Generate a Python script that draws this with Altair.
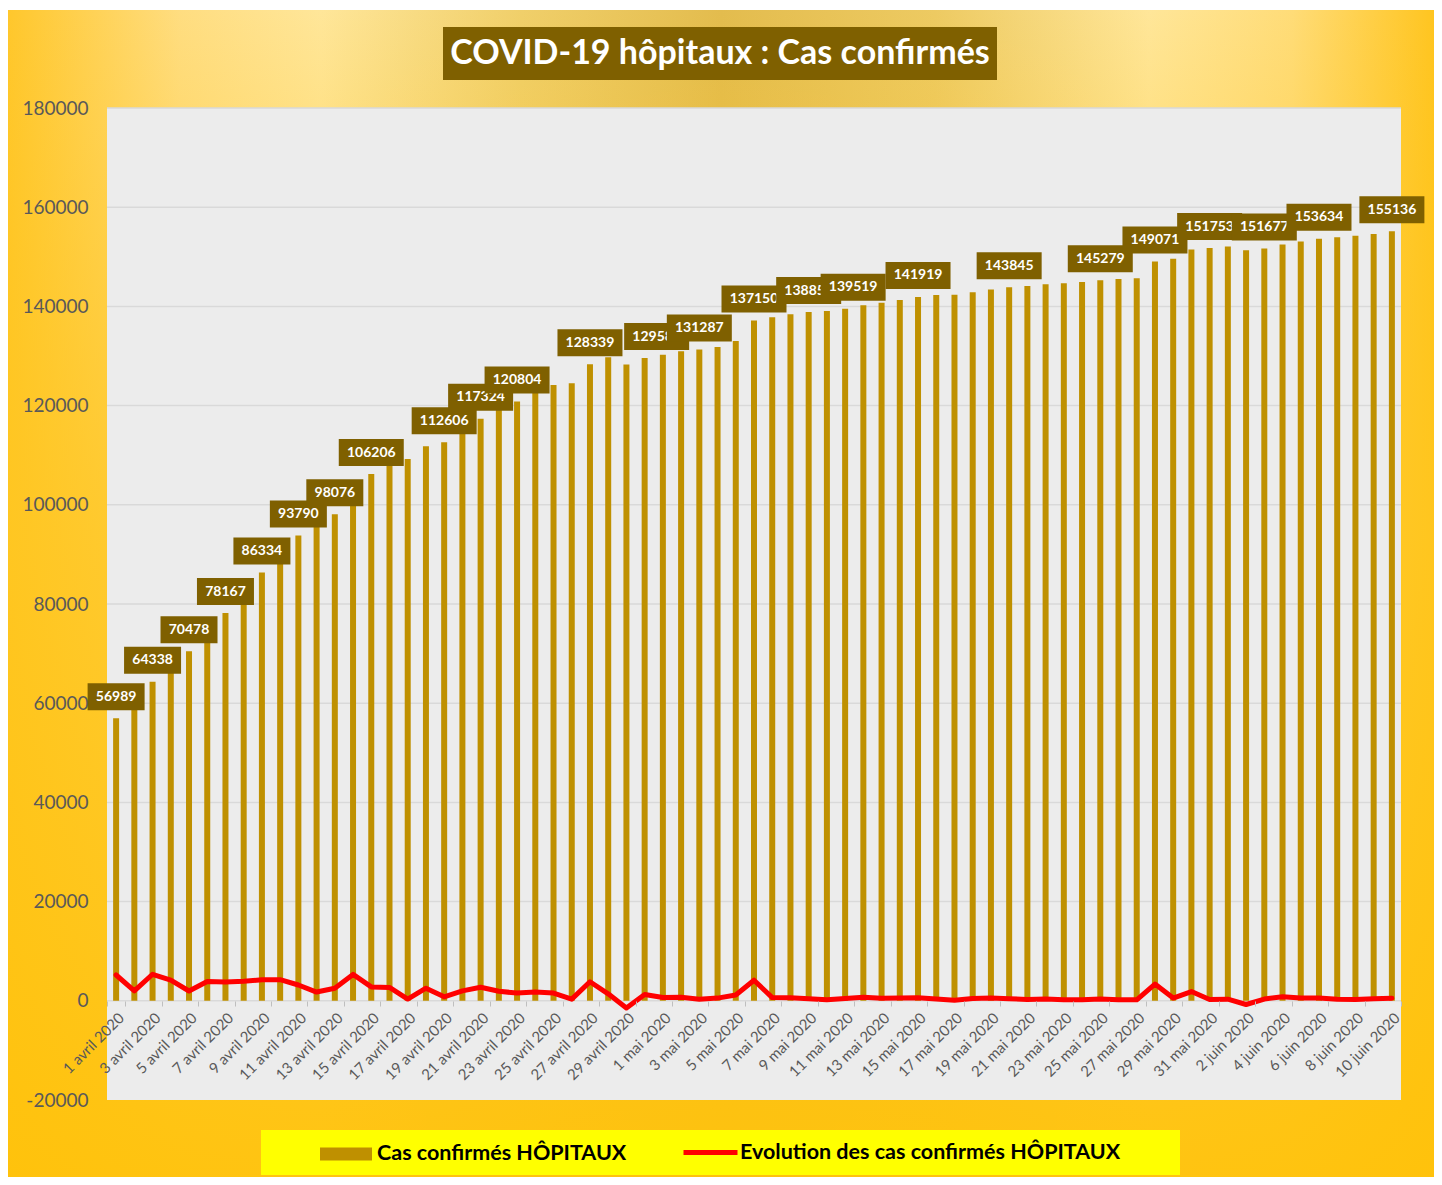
import altair as alt
import pandas as pd

# ---------------- données ----------------
jours = ([f"{d} avril 2020" for d in range(1, 31)]
         + [f"{d} mai 2020" for d in range(1, 32)]
         + [f"{d} juin 2020" for d in range(1, 11)])

cas_confirmes = [56989, 58990, 64338, 68500, 70478, 74370, 78167, 82100, 86334, 90600,
                 93790, 95550, 98076, 103400, 106206, 108900, 109250, 111800, 112606, 114600,
                 117324, 119250, 120804, 122600, 124150, 124490, 128339, 129740, 128300, 129584,
                 130250, 130980, 131287, 131830, 133000, 137150, 137800, 138420, 138855, 139060,
                 139519, 140230, 140750, 141300, 141919, 142280, 142370, 142840, 143420, 143845,
                 144100, 144480, 144690, 144900, 145279, 145500, 145700, 149071, 149620, 151490,
                 151753, 152080, 151330, 151677, 152500, 153080, 153634, 153950, 154220, 154620,
                 155136]

evolution = [5200, 2001, 5348, 4162, 1978, 3892, 3797, 3933, 4234, 4266,
             3190, 1760, 2526, 5324, 2806, 2694, 350, 2550, 806, 1994,
             2724, 1926, 1554, 1796, 1550, 340, 3849, 1401, -1440, 1284,
             666, 730, 307, 543, 1170, 4150, 650, 620, 435, 205,
             459, 711, 520, 550, 619, 361, 90, 470, 580, 425,
             256, 380, 210, 210, 379, 221, 200, 3371, 549, 1870,
             263, 327, -750, 347, 823, 580, 554, 316, 270, 400, 516]

# rangs (1 = 1 avril) des barres portant une étiquette
jours_etiquetes = [1, 3, 5, 7, 9, 11, 13, 15, 19, 21, 23, 27, 30, 33, 36, 39, 41,
                   45, 50, 55, 58, 61, 64, 67, 71]

graduations_y = [-20000, 0, 20000, 40000, 60000, 80000, 100000, 120000, 140000, 160000, 180000]
jours_affiches = jours[::2]

SERIE_BARRES = "Cas confirmés HÔPITAUX"
SERIE_LIGNE = "Evolution des cas confirmés HÔPITAUX"
TITRE = "COVID-19 hôpitaux : Cas confirmés"

df = pd.DataFrame({
    "jour": jours,
    "rang": list(range(1, len(jours) + 1)),
    "cas": cas_confirmes,
    "evolution": evolution,
    "serie_barres": SERIE_BARRES,
    "serie_ligne": SERIE_LIGNE,
})

# ---------------- mise en page ----------------
W, H = 1294, 992
FONT = "Lato"
GRIS_TXT = "#595959"
# petits décalages horizontaux (px) de quelques étiquettes, comme dans l'original
DECALAGE_ETIQUETTE = {30: 12, 41: 8}

Y_SCALE = alt.Scale(domain=[-20000, 180000], nice=False, zero=False)
X_SCALE = alt.Scale(paddingInner=0, paddingOuter=0)

X_AXIS = alt.Axis(title=None, values=jours_affiches, labelAngle=-45,
                  labelFont=FONT, labelFontSize=15, labelColor=GRIS_TXT,
                  labelPadding=4, domain=False, ticks=True, tickBand="extent",
                  tickSize=5, tickColor="#BFBFBF", grid=False,
                  offset=-99, zindex=1, labelOverlap=False)
Y_AXIS = alt.Axis(title=None, values=graduations_y, labelExpr="'' + datum.value",
                  labelFont=FONT, labelFontSize=19, labelColor=GRIS_TXT,
                  labelPadding=19, domain=False, ticks=False, grid=False,
                  zindex=1)

x_enc = alt.X("jour:N", sort=jours, scale=X_SCALE, axis=X_AXIS)


def y_enc(champ):
    return alt.Y(champ, scale=Y_SCALE, axis=Y_AXIS)


one = alt.Data(values=[{"a": 1}])

grad_h = alt.LinearGradient(
    gradient="linear", x1=0, x2=1, y1=0, y2=0,
    stops=[
        alt.GradientStop(color="#FFC72C", offset=0.0),
        alt.GradientStop(color="#FFDD80", offset=0.12),
        alt.GradientStop(color="#FFE699", offset=0.22),
        alt.GradientStop(color="#F0CF6A", offset=0.36),
        alt.GradientStop(color="#E3BC4E", offset=0.5),
        alt.GradientStop(color="#EDCA62", offset=0.65),
        alt.GradientStop(color="#FFE699", offset=0.8),
        alt.GradientStop(color="#FFDC78", offset=0.9),
        alt.GradientStop(color="#FFC520", offset=1.0),
    ])
grad_v = alt.LinearGradient(
    gradient="linear", x1=0, x2=0, y1=0, y2=1,
    stops=[
        alt.GradientStop(color="rgba(255,196,20,0)", offset=0.0),
        alt.GradientStop(color="rgba(255,196,20,0.15)", offset=0.1),
        alt.GradientStop(color="rgba(255,198,30,0.75)", offset=0.45),
        alt.GradientStop(color="rgba(255,194,10,0.95)", offset=1.0),
    ])

fond = alt.Chart(one).mark_rect(fill=grad_h).encode(
    x=alt.value(-99), x2=alt.value(W + 33), y=alt.value(-98), y2=alt.value(H + 77))
voile = alt.Chart(one).mark_rect(fill=grad_v).encode(
    x=alt.value(-99), x2=alt.value(W + 33), y=alt.value(-98), y2=alt.value(H + 77))

cadre_titre = alt.Chart(one).mark_rect(fill="#7F6000").encode(
    x=alt.value(336), x2=alt.value(890), y=alt.value(-81), y2=alt.value(-28))
titre = alt.Chart(one).mark_text(
    font=FONT, fontWeight="bold", fontSize=34, color="white",
    align="center", baseline="middle").encode(
    x=alt.value(613), y=alt.value(-54), text=alt.value(TITRE))

zone = alt.Chart(one).mark_rect(fill="#ECECEC").encode(
    x=alt.value(0), x2=alt.value(W), y=alt.value(0), y2=alt.value(H))

grille = alt.Chart(pd.DataFrame({"g": graduations_y})).transform_filter(
    alt.datum.g >= 0).mark_rule(color="#D9D9D9", strokeWidth=1.5).encode(
    y=y_enc("g:Q"),
    x=alt.value(0), x2=alt.value(W))

LEG_COMMUN = dict(orient="none", title=None, labelFont=FONT, labelFontSize=21.5,
                  labelFontWeight="bold", labelColor="black", labelLimit=800,
                  padding=0, zindex=1)

barres = alt.Chart(df).mark_bar(width=6).encode(
    x=x_enc,
    y=y_enc("cas:Q"),
    fill=alt.Fill("serie_barres:N",
                  scale=alt.Scale(domain=[SERIE_BARRES], range=["#BF9000"]),
                  legend=alt.Legend(legendX=213, legendY=1020,
                                    symbolType="M-1,-0.25L1,-0.25L1,0.25L-1,0.25Z",
                                    symbolSize=2704, symbolStrokeWidth=0,
                                    labelOffset=5, **LEG_COMMUN)),
)

ligne = alt.Chart(df).mark_line(strokeWidth=5, strokeCap="round", strokeJoin="round").encode(
    x=x_enc,
    y=y_enc("evolution:Q"),
    stroke=alt.Stroke("serie_ligne:N",
                      scale=alt.Scale(domain=[SERIE_LIGNE], range=["#FF0000"]),
                      legend=alt.Legend(legendX=574, legendY=1015,
                                        symbolType="stroke", symbolSize=2916,
                                        symbolStrokeWidth=5, labelOffset=0,
                                        **LEG_COMMUN)),
)

etiquettes = []
for r in jours_etiquetes:
    largeur = 65 if cas_confirmes[r - 1] >= 100000 else 57
    dx = DECALAGE_ETIQUETTE.get(r, 0)
    base = alt.Chart(df).transform_filter(alt.datum.rang == r)
    boite = base.mark_bar(width=largeur, color="#7F6000", xOffset=dx,
                          yOffset=-8, y2Offset=-35).encode(
        x=x_enc,
        y=y_enc("cas:Q"),
        y2=alt.Y2("cas:Q"),
    )
    texte = base.mark_text(font=FONT, fontWeight="bold", fontSize=14, color="white",
                           align="center", baseline="middle", dx=dx, dy=-21.5).encode(
        x=x_enc,
        y=y_enc("cas:Q"),
        text=alt.Text("cas:Q", format="d"),
    )
    etiquettes += [boite, texte]

cadre_legende = alt.Chart(one).mark_rect(fill="#FFFF00").encode(
    x=alt.value(154), x2=alt.value(1073), y=alt.value(1022), y2=alt.value(1067))

chart = alt.layer(
    fond, voile, cadre_titre, titre, zone, grille, barres, ligne, *etiquettes, cadre_legende
).properties(
    width=W, height=H,
    autosize=alt.AutoSizeParams(type="none"),
    padding={"left": 99, "top": 100, "right": 33, "bottom": 77},
    background="white",
).configure_view(stroke=None)

chart.save("out.html", embed_options={"renderer": "svg", "actions": False})
